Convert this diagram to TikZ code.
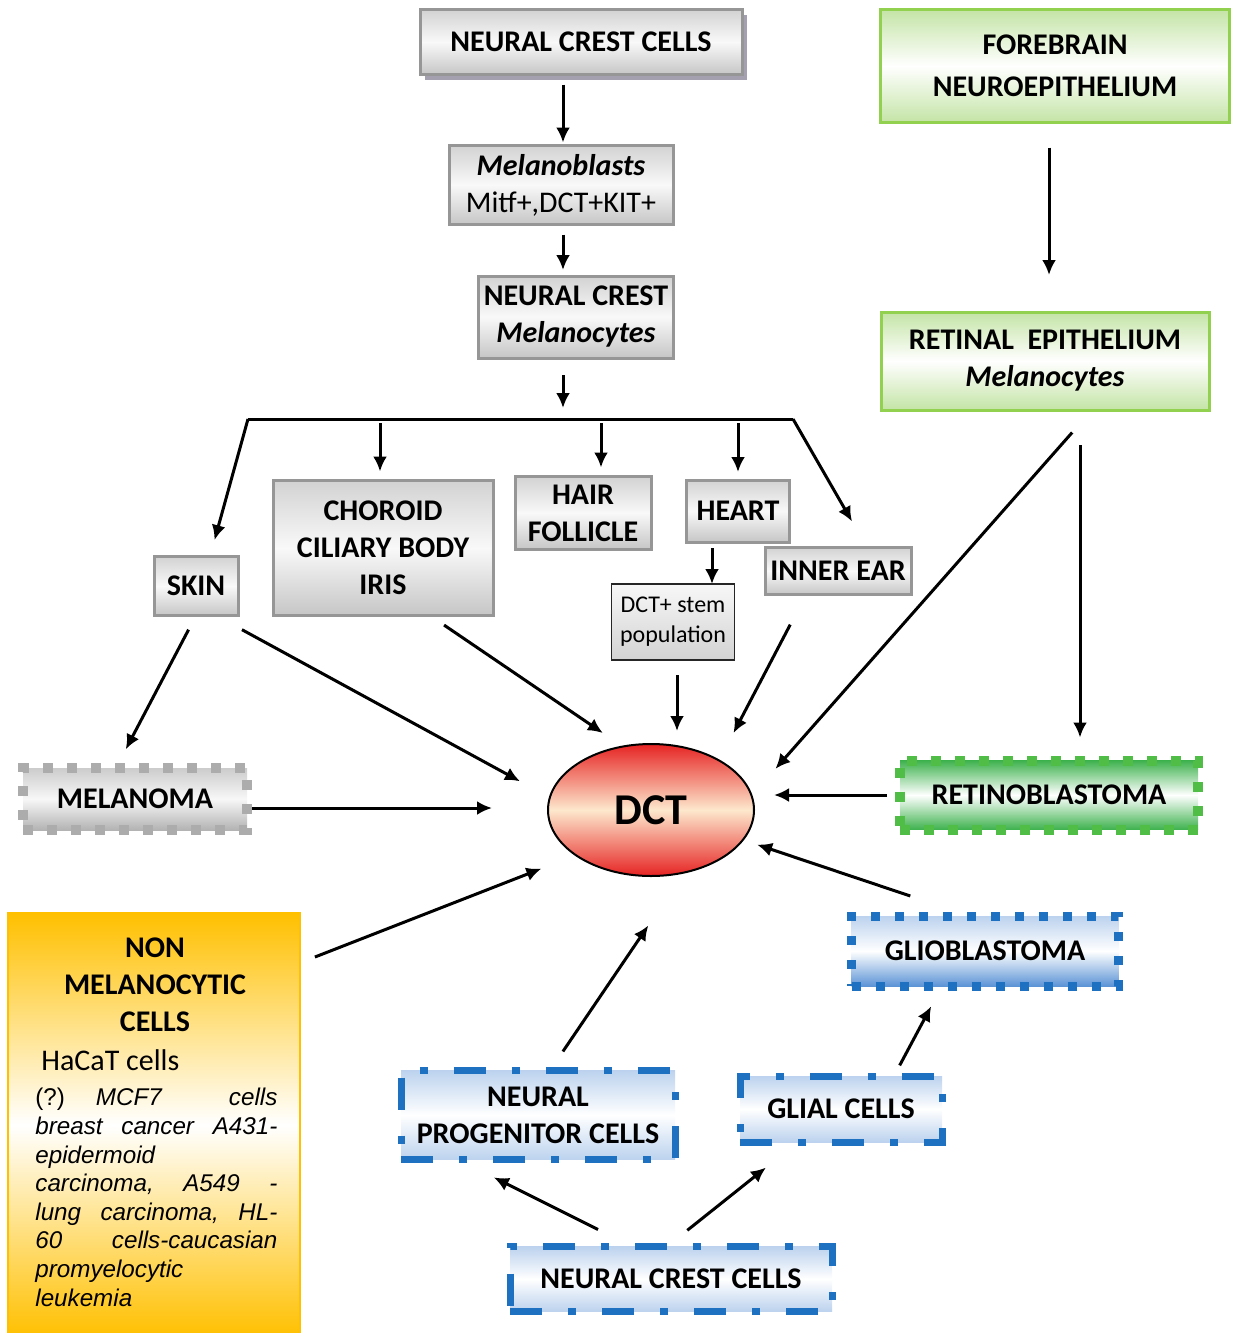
\documentclass[tikz,border=0pt]{standalone}
\usepackage{fontspec}
\setmainfont{Carlito}
\newfontfamily\arialfont{Liberation Sans}
\usetikzlibrary{arrows.meta, shapes.geometric, shadows, positioning, calc}

\definecolor{boxGray}{RGB}{150,150,150}
\definecolor{shadowGray}{RGB}{165,160,175}
\definecolor{leafGreen}{RGB}{146,208,80}
\definecolor{paleGreen}{RGB}{196,228,166}
\definecolor{dotGreen}{RGB}{80,190,70}
\definecolor{deepGreen}{RGB}{62,178,78}
\definecolor{cellBlue}{RGB}{30,112,192}
\definecolor{paleBlue}{RGB}{188,210,238}
\definecolor{midBlue}{RGB}{92,148,214}
\definecolor{gold}{RGB}{255,192,0}
\definecolor{dctRed}{RGB}{230,35,35}
\definecolor{peach}{RGB}{253,232,205}

\newcommand{\boxfont}{\fontsize{15}{18.5}\selectfont\bfseries}
\newcommand{\listfont}{\arialfont\itshape\fontsize{12.1}{14.3}\selectfont\parindent=0pt}

\tikzset{
  arr/.style={-{Latex[length=7.5pt,width=7pt]}, line width=1.5pt},
  plain/.style={line width=1.5pt},
  grayBox/.style={draw=boxGray, line width=1.5pt, top color=gray!35, bottom color=gray!45, middle color=gray!5,
    font=\boxfont, align=center, inner sep=0pt, outer sep=0pt},
  greenBox/.style={draw=leafGreen, line width=1.5pt, top color=paleGreen, bottom color=paleGreen, middle color=white,
    font=\boxfont, align=center, inner sep=0pt, outer sep=0pt},
  dotBox/.style={line width=5pt, dash pattern=on 5pt off 7pt, font=\boxfont, align=center, inner sep=0pt, outer sep=0pt},
  dashDotBox/.style={draw=cellBlue, line width=3.5pt, dash pattern=on 16pt off 13pt on 4pt off 13pt,
    top color=paleBlue, bottom color=paleBlue, middle color=white, font=\boxfont, align=center, inner sep=0pt, outer sep=0pt}
}

\begin{document}
\begin{tikzpicture}[x=0.5pt, y=-0.5pt]
\useasboundingbox (0,0) rectangle (1233,1333);

\node[grayBox, minimum width=161pt, minimum height=32.5pt,
  drop shadow={shadow xshift=2.5pt, shadow yshift=-2.5pt, fill=shadowGray, opacity=1}] (ncTop) at (581,42) {NEURAL CREST CELLS};
\node[grayBox, minimum width=112pt, minimum height=39.5pt] (mblast) at (561,185)
  {\textit{Melanoblasts}\\\mdseries Mitf+,DCT+KIT+};
\node[grayBox, minimum width=97.5pt, minimum height=41pt] (ncMel) at (576,317) {NEURAL CREST\\\textit{Melanocytes}};

\node[greenBox, minimum width=174.5pt, minimum height=56.5pt, font=\fontsize{15}{21}\selectfont\bfseries] (forebrain) at (1055,66)
  {FOREBRAIN\\NEUROEPITHELIUM};
\node[greenBox, minimum width=164pt, minimum height=49pt] (retEpi) at (1045,361) {RETINAL~~EPITHELIUM\\\textit{Melanocytes}};

\coordinate (brL) at (248,419);
\coordinate (brR) at (793,419);

\node[grayBox, minimum width=42pt, minimum height=29.5pt] (skin) at (196,586) {SKIN};
\node[grayBox, minimum width=110pt, minimum height=67.5pt] (choroid) at (383,548) {CHOROID\\CILIARY BODY\\IRIS};
\node[grayBox, minimum width=68pt, minimum height=36.5pt] (hair) at (583,513) {HAIR\\FOLLICLE};
\node[grayBox, minimum width=51.5pt, minimum height=31pt] (heart) at (738,511) {HEART};
\node[grayBox, minimum width=73pt, minimum height=23.5pt] (innerEar) at (838,571) {INNER EAR};
\node[draw=black!85, line width=0.9pt, top color=gray!6, bottom color=gray!35, minimum width=61.5pt, minimum height=38pt,
  align=center, inner sep=0pt, outer sep=0pt, font=\fontsize{12}{15}\selectfont] (stem) at (673,622) {DCT+ stem\\population};

\node[ellipse, draw, line width=1pt, top color=dctRed, bottom color=dctRed, middle color=peach,
  minimum width=103pt, minimum height=66pt, inner sep=0pt, outer sep=0pt, font=\fontsize{22}{26}\selectfont\bfseries] (dct) at (651,810) {DCT};

\node[dotBox, draw=gray!65, top color=gray!40, bottom color=gray!60, middle color=gray!6,
  minimum width=112pt, minimum height=31pt] (melanoma) at (135,799) {MELANOMA};
\node[dotBox, draw=dotGreen, top color=deepGreen, bottom color=deepGreen, middle color=white,
  minimum width=149pt, minimum height=34.5pt] (retino) at (1049,795) {RETINOBLASTOMA};
\node[dotBox, draw=cellBlue, line width=4.5pt, dash pattern=on 4.5pt off 7.5pt, top color=paleBlue, bottom color=midBlue, middle color=white,
  minimum width=133.5pt, minimum height=35pt] (glio) at (985,951) {GLIOBLASTOMA};

\node[dashDotBox, minimum width=137pt, minimum height=44.5pt] (progen) at (538,1115) {NEURAL\\PROGENITOR CELLS};
\node[dashDotBox, minimum width=101pt, minimum height=33pt] (glial) at (841,1109) {GLIAL CELLS};
\node[dashDotBox, minimum width=161pt, minimum height=32.5pt] (ncBot) at (671,1279) {NEURAL CREST CELLS};

\node[draw=gold, line width=1pt, top color=gold, bottom color=gold, middle color=white,
  minimum width=146pt, minimum height=212pt, inner sep=0pt, outer sep=0pt] (nonMel) at (154,1125) {};
\node[font=\boxfont, align=center, inner sep=0pt] (nonMelTitle) at (155,985) {NON\\MELANOCYTIC\\CELLS};
\node[font=\fontsize{15}{18}\selectfont, anchor=west, inner sep=0pt] (hacat) at (41,1060) {HaCaT cells};
\node[font=\listfont, text width=121pt, align=left, anchor=north west, inner sep=0pt] (cellList) at (35,1088)
  {{\upshape(?)}\hspace*{15.5pt}MCF7\hfill cells\\
   breast\hfill cancer\hfill A431-\\
   epidermoid\\
   carcinoma,\hfill A549\hfill -\\
   lung\hfill carcinoma,\hfill HL-\\
   60\hfill cells-caucasian\\
   promyelocytic\\
   leukemia};

\draw[arr, shorten <=5pt, shorten >=1.5pt] ([xshift=-9pt]ncTop.south) -- ([xshift=-9pt]ncTop.south |- mblast.north);
\draw[arr, shorten <=5pt, shorten >=3pt] ([xshift=1pt]mblast.south) -- ([xshift=1pt]mblast.south |- ncMel.north);
\draw[arr, shorten <=8.5pt, shorten >=5.5pt] ([xshift=-6.5pt]ncMel.south) -- ([xshift=-6.5pt]ncMel.south |- brL);
\draw[arr, shorten <=12.5pt, shorten >=18.5pt] ([xshift=-3pt]forebrain.south) -- ([xshift=-3pt]forebrain.south |- retEpi.north);

\draw[plain] (brL) -- (brR);
\draw[arr, shorten >=8.5pt] (brL) -- ([xshift=7pt]skin.north);
\draw[arr, shorten >=15pt] (brR) -- ([xshift=14.5pt]innerEar.north);
\draw[arr, shorten <=2pt, shorten >=4.5pt] ([xshift=-1.5pt]choroid.north |- brL) -- ([xshift=-1.5pt]choroid.north);
\draw[arr, shorten <=2pt, shorten >=4.5pt] ([xshift=9pt]hair.north |- brL) -- ([xshift=9pt]hair.north);
\draw[arr, shorten <=2pt, shorten >=4pt] (heart.north |- brL) -- (heart.north);
\draw[arr, shorten <=3pt] ([xshift=-13pt]heart.south) -- ([xshift=19.5pt]stem.north);

\draw[arr, shorten <=8pt, shorten >=10.5pt] (skin.south) -- ([xshift=-9.5pt]melanoma.north);
\draw[arr, shorten <=14.8pt, shorten >=17pt] ([xshift=10pt]skin.south) -- (dct.173);
\draw[arr, shorten <=8.5pt, shorten >=12pt] ([xshift=23.5pt]choroid.south) -- (dct.114);
\draw[arr, shorten <=7.5pt, shorten >=6.5pt] ([xshift=2pt]stem.south) -- ([xshift=2pt]stem.south |- dct.north);
\draw[arr, shorten <=17pt, shorten >=15.5pt] ([xshift=-16pt]innerEar.south) -- (dct.36);
\draw[arr, shorten <=15pt, shorten >=18pt] ([xshift=23.5pt]retEpi.south) -- (dct.8);
\draw[arr, shorten <=17.5pt, shorten >=11.5pt] ([xshift=17.5pt]retEpi.south) -- ([xshift=17.5pt]retEpi.south |- retino.north);
\draw[arr, shorten <=6.5pt, shorten >=10pt] (retino.west) -- (retino.west -| dct.east);
\draw[arr, shorten <=2.5pt, shorten >=28pt] ([yshift=-4.5pt]melanoma.east) -- ([yshift=-4.5pt]melanoma.east -| dct.west);
\draw[arr, shorten <=31.5pt, shorten >=7.5pt] ([xshift=-7.5pt]glio.north) -- (dct.-18);
\draw[arr, shorten <=8pt, shorten >=18.5pt] (nonMel.48) -- (dct.211);
\draw[arr, shorten <=11.5pt, shorten >=32pt] ([xshift=6pt]progen.north) -- (dct.-62);
\draw[arr, shorten <=6pt, shorten >=11.5pt] ([xshift=26.5pt]glial.north) -- ([xshift=-21.5pt]glio.south);
\draw[arr, shorten <=19pt, shorten >=20pt] ([xshift=-19.5pt]ncBot.north) -- ([xshift=-40pt]progen.south);
\draw[arr, shorten <=13pt, shorten >=20.5pt] ([xshift=-2pt]ncBot.north) -- ([xshift=-21.5pt]glial.south);
\end{tikzpicture}
\end{document}
